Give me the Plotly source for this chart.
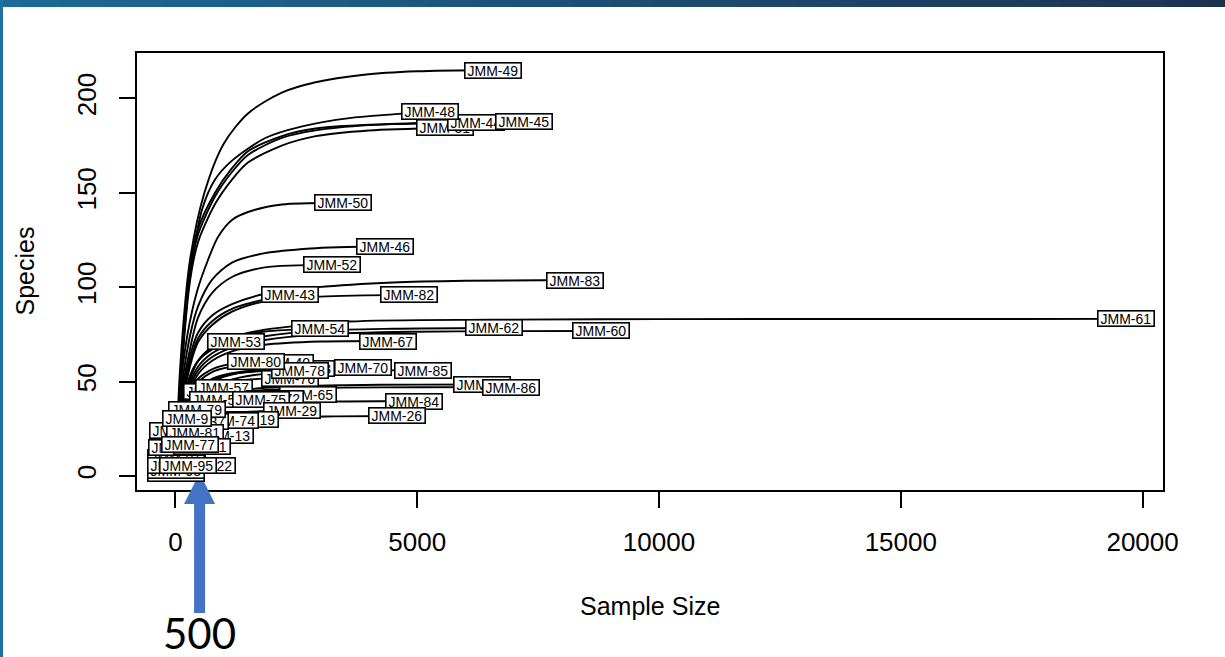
import plotly.graph_objects as go

# ---------------- data ----------------
sample_names = [
    "JMM-49", "JMM-48", "JMM-51", "JMM-44", "JMM-45", "JMM-50", "JMM-46", "JMM-52",
    "JMM-83", "JMM-43", "JMM-82", "JMM-61", "JMM-62", "JMM-60", "JMM-54", "JMM-67",
    "JMM-53", "JMM-80", "JMM-40", "JMM-73", "JMM-78", "JMM-76", "JMM-70", "JMM-85",
    "JMM-88", "JMM-86", "JMM-57", "JMM-59", "JMM-98", "JMM-65", "JMM-72", "JMM-75",
    "JMM-56", "JMM-84", "JMM-29", "JMM-26", "JMM-19", "JMM-74", "JMM-37", "JMM-79",
    "JMM-9", "JMM-81", "JMM-13", "JMM-77", "JMM-11", "JMM-89", "JMM-90", "JMM-91",
    "JMM-92", "JMM-93", "JMM-94", "JMM-96", "JMM-22", "JMM-95",
]
sample_sizes = [
    6567, 5265, 5575, 6216, 7208, 3466, 4332, 3238,
    8263, 2376, 4830, 19656, 6586, 8801, 2990, 4396,
    1253, 1667, 2266, 2700, 2576, 2370, 3877, 5118,
    6350, 6940, 1009, 760, 900, 2748, 2057, 1776,
    886, 4934, 2411, 4583, 1543, 1121, 509, 450,
    240, 405, 1030, 302, 550, 60, 30, 20,
    40, 10, 15, 5, 650, 270,
]
species_totals = [
    215.0, 192.8, 184.3, 187.0, 187.6, 144.6, 121.8, 111.8,
    103.8, 95.9, 95.9, 83.2, 78.4, 76.8, 77.9, 71.5,
    71.0, 60.4, 59.9, 56.7, 56.1, 51.9, 57.7, 56.1,
    48.5, 47.1, 47.1, 45.0, 44.0, 43.2, 41.3, 40.3,
    40.3, 39.7, 34.7, 31.8, 29.7, 29.4, 29.0, 35.0,
    30.7, 23.3, 21.2, 16.7, 15.9, 24.0, 15.0, 10.0,
    6.0, 3.0, 5.8, 1.2, 5.6, 5.8,
]
# intermediate readings along each curve (sample size, species)
curve_n = [
    [1, 100, 300, 600, 1000, 1500, 2200, 2900, 3900, 5000],
    [1, 100, 300, 550, 820, 1170, 1860, 2600, 3600],
    [1, 100, 300, 470, 820, 1170, 1500, 2200, 2900, 4000],
    [1, 100, 300, 470, 820, 1170, 1500, 2200, 2900, 4000],
    [1, 100, 300, 470, 820, 1170, 1500, 2200, 2900, 4000, 5500],
    [1, 100, 250, 450, 674, 881, 1170, 1501, 2204],
    [1, 100, 300, 470, 760, 1170, 1850, 2800],
    [1, 100, 300, 470, 760, 1170, 1850],
    [1, 100, 300, 470, 760, 1170, 1850, 2950, 4500, 6000],
    [1, 100, 300, 470, 760, 1170, 1850],
    [1, 100, 300, 470, 760, 1170, 1850, 3000],
    [1, 100, 300, 470, 760, 1170, 1850, 3600, 6500, 10000],
    [1, 100, 300, 470, 760, 1170, 1850, 3000, 4500],
    [1, 100, 300, 470, 760, 1170, 1850, 3000, 5000, 6586],
    [1, 100, 300, 470, 760, 1170, 1850],
    [1, 100, 300, 470, 760, 1170, 1850, 3000],
    [1, 100, 300, 470, 760, 1000],
    [1, 100, 250, 450, 800, 1200],
    [1, 100, 250, 450, 800, 1300, 1800],
    [1, 100, 250, 450, 800, 1300, 2000],
    [1, 100, 250, 450, 800, 1300, 2000],
    [1, 100, 250, 450, 800, 1300, 1900],
    [1, 100, 250, 450, 800, 1300, 2000, 3000],
    [1, 100, 250, 450, 800, 1300, 2000, 3500],
    [1, 100, 250, 450, 800, 1300, 2000, 3500, 5000],
    [1, 100, 250, 450, 800, 1300, 2000, 3500, 5000],
    [1, 100, 250, 450, 700],
    [1, 100, 250, 450],
    [1, 100, 250, 450, 700],
    [1, 100, 250, 450, 800, 1300, 2000],
    [1, 100, 250, 450, 800, 1300],
    [1, 100, 250, 450, 800, 1300],
    [1, 100, 250, 450, 700],
    [1, 100, 250, 450, 800, 1300, 2000, 3500],
    [1, 100, 250, 450, 800, 1300, 1900],
    [1, 100, 250, 450, 800, 1300, 2200, 3300],
    [1, 100, 250, 450, 800, 1200],
    [1, 100, 250, 450, 800],
    [1, 100, 250, 400],
    [1, 100, 250, 350],
    [1, 60, 120, 180],
    [1, 100, 200, 300],
    [1, 100, 250, 450, 750],
    [1, 80, 160, 230],
    [1, 100, 250, 400],
    [1, 30],
    [1, 15],
    [1, 10],
    [1, 20],
    [1, 5],
    [1, 8],
    [1, 3],
    [1, 100, 300],
    [1, 80, 160],
]
curve_s = [
    [1, 58, 114, 150, 176, 192, 203, 208.5, 212.5, 214.3],
    [1, 50, 105, 141, 157, 167, 179, 185, 189.5],
    [1, 46, 103, 124, 144, 157, 166, 175, 180, 183],
    [1, 48, 110, 131, 150, 163, 172, 180, 184, 186],
    [1, 47, 107, 128, 148, 161, 170, 179, 183, 185.8, 187.2],
    [1, 45, 75, 98, 114.4, 126.6, 135.6, 139.8, 143.8],
    [1, 40, 74, 90, 104, 113, 118, 120.5],
    [1, 38, 67, 84, 97, 105.4, 110.5],
    [1, 34, 63, 76, 85, 91, 96.5, 100, 102.5, 103.4],
    [1, 32, 60, 73, 82, 88.5, 93.5],
    [1, 30, 58, 71, 80, 87, 92.5, 95],
    [1, 29, 51, 61, 68.5, 73.5, 77.5, 81.8, 82.8, 83.1],
    [1, 28, 49, 58, 65, 70, 74, 77, 78],
    [1, 27, 47, 56, 63, 68, 72, 75, 76.4, 76.7],
    [1, 30, 52, 61, 68, 73, 76.5],
    [1, 26, 45, 54, 61, 66, 69.5, 71.2],
    [1, 32, 53, 61, 67, 69.8],
    [1, 28, 42, 51, 57, 59.5],
    [1, 26, 40, 49, 55.5, 58.5, 59.6],
    [1, 24, 37, 46, 52, 55, 56.3],
    [1, 25, 38, 46, 51.5, 54.5, 55.8],
    [1, 22, 34, 42, 47.5, 50.5, 51.6],
    [1, 22, 35, 44, 50.5, 54.5, 56.5, 57.4],
    [1, 21, 33, 41, 48, 52, 54.5, 55.8],
    [1, 19, 29, 36, 41.5, 45, 47, 48.1, 48.4],
    [1, 18, 28, 35, 40.5, 44, 45.8, 46.8, 47.0],
    [1, 25, 37, 43, 46],
    [1, 25, 36, 42],
    [1, 21, 32, 38.5, 42.5],
    [1, 19, 29, 35, 39.5, 42, 43],
    [1, 19, 29, 34.5, 38.5, 40.5],
    [1, 20, 29, 34, 37.8, 39.7],
    [1, 23, 32, 37, 39.5],
    [1, 16, 25, 30.5, 35, 37.5, 38.8, 39.5],
    [1, 15, 23, 28, 31.5, 33.5, 34.4],
    [1, 13, 20, 24.5, 28, 30, 31.2, 31.6],
    [1, 15, 22, 25.5, 28, 29.2],
    [1, 16, 23, 26.5, 28.6],
    [1, 17, 24, 27.5],
    [1, 22, 30, 33.5],
    [1, 15, 23, 28],
    [1, 14, 19, 21.7],
    [1, 11, 16, 18.5, 20.3],
    [1, 10, 13.5, 15.5],
    [1, 9, 12.5, 14.8],
    [1, 15],
    [1, 9],
    [1, 7],
    [1, 4.5],
    [1, 2.5],
    [1, 4.5],
    [1, 1.1],
    [1, 3.5, 4.8],
    [1, 4, 5.1],
]
# label drawing order (first = bottom, last = top)
label_order = [
    "JMM-61", "JMM-60", "JMM-83", "JMM-49", "JMM-51", "JMM-44", "JMM-45", "JMM-48",
    "JMM-50", "JMM-46", "JMM-52", "JMM-82", "JMM-43", "JMM-62", "JMM-54", "JMM-67",
    "JMM-53", "JMM-88", "JMM-86", "JMM-85", "JMM-73", "JMM-70", "JMM-76", "JMM-40",
    "JMM-78", "JMM-80", "JMM-84", "JMM-26", "JMM-98", "JMM-59", "JMM-57", "JMM-65",
    "JMM-72", "JMM-56", "JMM-75", "JMM-29", "JMM-19", "JMM-13",
    "JMM-96", "JMM-93", "JMM-92", "JMM-91", "JMM-94", "JMM-90", "JMM-89",
    "JMM-74", "JMM-37", "JMM-79", "JMM-81", "JMM-9", "JMM-11", "JMM-77",
    "JMM-22", "JMM-95",
]
x_tick_vals = [0, 5000, 10000, 15000, 20000]
x_tick_text = ["0", "5000", "10000", "15000", "20000"]
y_tick_vals = [0, 50, 100, 150, 200]
y_tick_text = ["0", "50", "100", "150", "200"]
x_title = "Sample Size"
y_title = "Species"
arrow_at = 500
arrow_text = "500"

# ---------------- layout constants ----------------
W, H = 1225, 657
ML, MR, MT, MB = 137, 62, 53, 167
PW, PH = W - ML - MR, H - MT - MB
X_RANGE = [-794, 20422]
Y_RANGE = [-7.4, 224.0]
FONT = "Liberation Sans, Arial, Helvetica, sans-serif"

def px_x(p):
    return (p - ML) / PW

def px_y(p):
    return (H - MB - p) / PH

CHAR_W = {"J": 0.5, "M": 0.833, "-": 0.333}

fig = go.Figure()
for name, N, S, cn, cs in zip(sample_names, sample_sizes, species_totals, curve_n, curve_s):
    fig.add_trace(go.Scatter(
        x=list(cn) + [N], y=list(cs) + [S], mode="lines",
        line=dict(color="black", width=1.9, shape="spline", smoothing=0.8),
        hoverinfo="skip", showlegend=False, name=name,
    ))

annotations = []
LBL = 14
for name in label_order:
    i = sample_names.index(name)
    tw = sum(CHAR_W.get(c, 0.556) for c in name) * LBL
    annotations.append(dict(
        x=sample_sizes[i], y=species_totals[i], xref="x", yref="y",
        text=name, showarrow=False, xanchor="center", yanchor="middle",
        bgcolor="white", bordercolor="black", borderwidth=1.6, borderpad=0,
        width=tw + 4, height=14, font=dict(family=FONT, size=LBL, color="black"),
    ))

annotations.append(dict(x=0.5, y=px_y(606), xref="paper", yref="paper", text=x_title,
                        showarrow=False, xanchor="center", yanchor="middle",
                        font=dict(family=FONT, size=25, color="black")))
annotations.append(dict(x=px_x(24), y=0.5, xref="paper", yref="paper", text=y_title,
                        showarrow=False, xanchor="center", yanchor="middle", textangle=-90,
                        font=dict(family=FONT, size=25, color="black")))
ax_frac = (arrow_at - X_RANGE[0]) / (X_RANGE[1] - X_RANGE[0])
annotations.append(dict(x=ax_frac, y=px_y(633), xref="paper", yref="paper", text=arrow_text,
                        showarrow=False, xanchor="center", yanchor="middle",
                        font=dict(family="Lato, Open Sans, sans-serif", size=42, color="black")))

shapes = []
# slide top bar with gradient
n_sl = 60
c0 = (28, 106, 150)
c1 = (30, 50, 80)
for k in range(n_sl):
    t = k / (n_sl - 1)
    col = "rgb(%d,%d,%d)" % tuple(round(a + (b - a) * t) for a, b in zip(c0, c1))
    shapes.append(dict(type="rect", xref="paper", yref="paper",
                       x0=px_x(W * k / n_sl), x1=px_x(W * (k + 1) / n_sl + 1),
                       y0=px_y(7), y1=px_y(0), fillcolor=col, line=dict(width=0), layer="above"))
shapes.append(dict(type="rect", xref="paper", yref="paper", x0=px_x(0), x1=px_x(3),
                   y0=px_y(H), y1=px_y(0), fillcolor="rgb(26,115,162)", line=dict(width=0), layer="above"))
# arrow
ARROW_C = "#4472C4"
shapes.append(dict(type="rect", xref="paper", yref="paper", xsizemode="pixel", ysizemode="pixel",
                   xanchor=ax_frac, yanchor=0, x0=-5.5, x1=5.5, y0=-123, y1=-12,
                   fillcolor=ARROW_C, line=dict(width=0), layer="above"))
shapes.append(dict(type="path", xref="paper", yref="paper", xsizemode="pixel", ysizemode="pixel",
                   xanchor=ax_frac, yanchor=0, path="M -15.5,-14 L 15.5,-14 L 0,17 Z",
                   fillcolor=ARROW_C, line=dict(width=0), layer="above"))

axis_common = dict(showgrid=False, zeroline=False, showline=True, mirror=True,
                   linecolor="black", linewidth=1.5, ticks="outside", ticklen=16,
                   tickwidth=1.5, tickcolor="black",
                   tickfont=dict(family=FONT, size=26, color="black"))
fig.update_layout(
    width=W, height=H, margin=dict(l=ML, r=MR, t=MT, b=MB, pad=0),
    paper_bgcolor="white", plot_bgcolor="white",
    xaxis=dict(range=X_RANGE, tickvals=x_tick_vals, ticktext=x_tick_text,
               ticklabelstandoff=12, **axis_common),
    yaxis=dict(range=Y_RANGE, tickvals=y_tick_vals, ticktext=y_tick_text, tickangle=-90,
               ticklabelstandoff=13, **axis_common),
    annotations=annotations, shapes=shapes,
)
fig.write_html("out.html", config={"displayModeBar": False},
               post_script="document.body.style.margin='0';document.body.style.overflow='hidden';")
